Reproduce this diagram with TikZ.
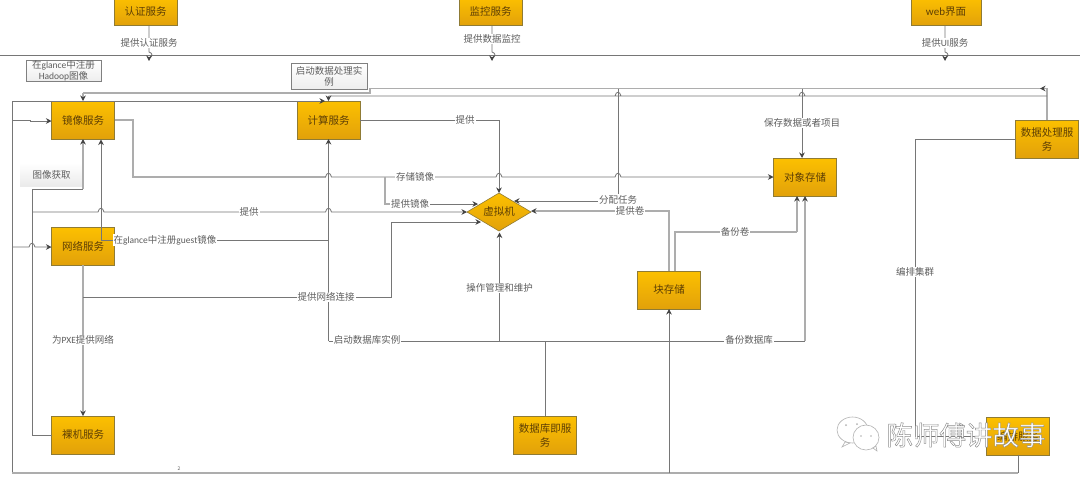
\documentclass[tikz,border=0pt]{standalone}
\usepackage{fontspec}
\setmainfont{Noto Sans CJK SC}
\newfontfamily\lat{Carlito}
\usetikzlibrary{arrows.meta,shapes.geometric,shadows}
\definecolor{lineC}{HTML}{767676}
\definecolor{greyC}{HTML}{ADADAD}
\definecolor{tipC}{HTML}{444444}
\definecolor{boxT}{HTML}{FCC000}
\definecolor{boxB}{HTML}{E2A10A}
\definecolor{boxE}{HTML}{8F7B35}
\definecolor{boxTx}{HTML}{5E3F05}
\definecolor{lblC}{HTML}{5E5E5E}
\newcommand{\hop}[2]{-- (#1-3,#2) .. controls (#1-2,#2-5) and (#1+2,#2-5) .. (#1+3,#2)}
\newcommand{\vhop}[2]{-- (#1,#2-3) .. controls (#1+4,#2-2) and (#1+4,#2+2) .. (#1,#2+3)}
\tikzset{
  x=1pt,y=-1pt,
  lk/.style={draw=lineC,line width=.8pt},
  lkg/.style={draw=greyC,line width=1.6pt},
  arrowed/.style={-{Stealth[length=5.5pt,width=5.5pt,color=tipC]}},
  svc/.style={draw=boxE,line width=.6pt,top color=boxT,bottom color=boxB,text=boxTx,
    minimum width=63pt,minimum height=38pt,inner sep=1pt,outer sep=0pt,align=center,
    font=\fontsize{10.5pt}{14pt}\selectfont},
  topsvc/.style={svc,minimum height=28pt},
  vm/.style={shape=diamond,aspect=1.7,draw=boxE,line width=.6pt,top color=boxT,bottom color=boxB,
    text=boxTx,minimum width=64pt,minimum height=38pt,inner sep=0pt,outer sep=0pt,
    font=\fontsize{10.5pt}{14pt}\selectfont},
  lbl/.style={fill=white,text=lblC,inner sep=1pt,font=\fontsize{9.5pt}{12pt}\selectfont},
  notebox/.style={draw=gray,line width=.5pt,top color=white,bottom color=black!7,text=lblC,
    drop shadow={opacity=.25,shadow xshift=.8pt,shadow yshift=-.8pt},
    inner sep=0pt,align=center,font=\fontsize{9.5pt}{13pt}\selectfont},
  softbox/.style={top color=white,bottom color=black!8,text=lblC,inner sep=0pt,
    minimum width=63pt,minimum height=23pt,font=\fontsize{9.5pt}{12pt}\selectfont},
}
\begin{document}
\begin{tikzpicture}
\useasboundingbox (0,0) rectangle (1080,483);
\fill[white] (0,0) rectangle (1080,483);

% waypoints
\coordinate (busL) at (0,55); \coordinate (busR) at (1080,55);
\coordinate (g1) at (1047,88.5); \coordinate (g2) at (370,88.5); \coordinate (g3) at (370,93); \coordinate (g4) at (83,93);
\coordinate (t96) at (1047,96); \coordinate (c96) at (328.5,96);
\coordinate (o1) at (325,101); \coordinate (o2) at (12,101); \coordinate (o3) at (12,473); \coordinate (o4) at (1018,473);
\coordinate (x32a) at (32,435); \coordinate (x32b) at (32,189); \coordinate (x83) at (83,189);
\coordinate (p212) at (32,212);

% boxes
\node[topsvc] (auth) at (145.5,11.5) {认证服务};
\node[topsvc] (mon)  at (490.5,11.5) {监控服务};
\node[topsvc,minimum width=70pt] (web) at (946,11.5) {{\lat\fontsize{11pt}{14pt}\selectfont web}界面};
\node[svc] (img)  at (83,120) {镜像服务};
\node[svc] (comp) at (328.5,120) {计算服务};
\node[svc] (net)  at (83,246) {网络服务};
\node[svc] (bare) at (83,435) {裸机服务};
\node[svc] (db)   at (545,435) {数据库即服\\务};
\node[svc] (blk)  at (669,290) {块存储};
\node[svc] (obj)  at (805,177) {对象存储};
\node[svc] (proc) at (1047,139) {数据处理服\\务};
\node[svc] (orch) at (1018,436) {编排服务};
\node[vm] (vmn) at (499,212) {虚拟机};

% top bus
\draw[lk] (busL) -- (busR);
\coordinate (a1) at (149,61); \coordinate (a2) at (492,61); \coordinate (a3) at (945,61);
\draw[lk,arrowed] (auth.south -| a1) \vhop{149}{55} -- (a1);
\draw[lk,arrowed] (mon.south -| a2) \vhop{492}{55} -- (a2);
\draw[lk,arrowed] (web.south -| a3) \vhop{945}{55} -- (a3);

% data processing feeds
\draw[lkg] (proc.north) -- (g1) -- (g2) -- (g3) -- (g4);
\draw[lkg,arrowed] (g4) -- (img.north);
\draw[lkg,arrowed] (g1) -- (1040,88.5);
\draw[lk] (t96) \hop{802}{96} \hop{618}{96} -- (c96);
\draw[lk,arrowed] (c96) -- (comp.north);
\draw[lk,arrowed] (o2) -- (o1);
\draw[lk] (o2) -- (o3);
\draw[lkg] (o3) -- (o4);
\draw[lk] (o4) -- (orch.south);
\draw[lk,arrowed] (12,120) -- (30,120) -- (30,121) -- (51.5,121);
\draw[lk,arrowed] (12,247) \hop{32}{247} -- (51.5,247);

% image retrieval
\node[softbox] (getimg) at (51.5,174.5) {图像获取};
\draw[lk] (bare.west) -- (x32a) -- (x32b) -- (x83);
\draw[lkg,arrowed] (x83) -- (img.south);
\draw[lk,arrowed] (p212) \hop{101}{212} \hop{328.5}{212} -- (vmn.west);
\coordinate (g240) at (328.5,240);
\draw[lk,arrowed] (g240) -- (101,240) -- (101,139.5);

% compute
\coordinate (c341) at (328.5,341);
\draw[lk,arrowed] (c341) -- (comp.south);
\draw[lk,arrowed] (comp.east) -- (499,120) -- (vmn.north);

% image to object
\coordinate (i1) at (133,120); \coordinate (i2) at (133,177);
\draw[lkg] (img.east) -- (i1) -- (i2) -- (325.5,177);
\draw[lk,arrowed] (325.5,177) .. controls (326.5,172) and (330.5,172) .. (331.5,177) \hop{499}{177} \hop{618}{177} -- (obj.west);
\draw[lkg] (385,177) -- (385,204) -- (400,204);
\draw[lk,arrowed] (400,204) -- (478,204);

% network
\draw[lkg,arrowed] (net.south) -- (bare.north);
\draw[lk,arrowed] (83,297) -- (391,297) -- (391,222) -- (481,222);

% bottom bus
\coordinate (b1) at (805,341);
\draw[lk] (c341) -- (b1);
\draw[lkg,arrowed] (b1) -- (obj.south -| b1);
\draw[lk,arrowed] (499.5,341) -- (499.5,232.5);
\draw[lk] (db.north) -- (545,341);
\draw[lk,arrowed] (669,473) -- (blk.south);

% block / tasks
\draw[lk,arrowed] (618,88.5) -- (618,201) -- (514,201);
\draw[lkg,arrowed] (blk.north) -- (669,211) -- (531,211);
\draw[lkg] (675,271) -- (675,232) -- (797,232);
\draw[lkg,arrowed] (797,232) -- (797,196);
\draw[lk,arrowed] (802,88.5) -- (802,158);

% orchestration
\draw[lk] (1015.5,139) -- (915,139) -- (915,436) -- (orch.west);

% notes
\node[notebox,minimum width=75pt,minimum height=20pt] (n1) at (63.5,71) {在{\lat glance}中注册\\[-2pt]{\lat Hadoop}图像};
\node[notebox,minimum width=76pt,minimum height=26pt] (n2) at (329,76) {启动数据处理实\\[-2pt]例};

% labels
\node[lbl] (l1) at (149,43) {提供认证服务};
\node[lbl] (l2) at (492,39) {提供数据监控};
\node[lbl] (l3) at (945,43) {提供{\lat UI}服务};
\node[lbl] (l4) at (465,120) {提供};
\node[lbl] (l5) at (415,177) {存储镜像};
\node[lbl] (l6) at (410,204) {提供镜像};
\node[lbl] (l7) at (249,212) {提供};
\node[lbl] (l8) at (165,240) {在{\lat glance}中注册{\lat guest}镜像};
\node[lbl] (l9) at (326,297) {提供网络连接};
\node[lbl] (l10) at (83,340) {为{\lat PXE}提供网络};
\node[lbl] (l11) at (367,340) {启动数据库实例};
\node[lbl] (l12) at (499.5,288) {操作管理和维护};
\node[lbl] (l13) at (618,199.5) {分配任务};
\node[lbl] (l14) at (630,211) {提供卷};
\node[lbl] (l15) at (735,232) {备份卷};
\node[lbl] (l16) at (749,340) {备份数据库};
\node[lbl] (l17) at (802,123) {保存数据或者项目};
\node[lbl] (l18) at (915,272) {编排集群};
\node[lbl,inner sep=.5pt,font=\fontsize{5pt}{6pt}\selectfont] (l19) at (179,469) {2};

% watermark
\begin{scope}[draw=black!30,line width=.6pt,fill=white]
  \filldraw (852.5,430) ellipse (15.5 and 13);
  \filldraw (845,442) -- (842,447) -- (850,443) -- cycle;
  \filldraw (866,437.5) ellipse (13 and 12.5);
  \filldraw (873,448) -- (877,451) -- (876,446) -- cycle;
  \fill[black!30] (846,425) circle (1) (857,424) circle (1) (861,436) circle (.9) (871,436) circle (.9);
\end{scope}
\node[text=white,inner sep=0pt,font=\fontsize{26.5pt}{28pt}\selectfont] (wm) at (966,435)
  {\special{pdf:code 0.55 G 0.45 w 2 Tr}陈师傅讲故事\special{pdf:code 0 Tr}};
\end{tikzpicture}
\end{document}
